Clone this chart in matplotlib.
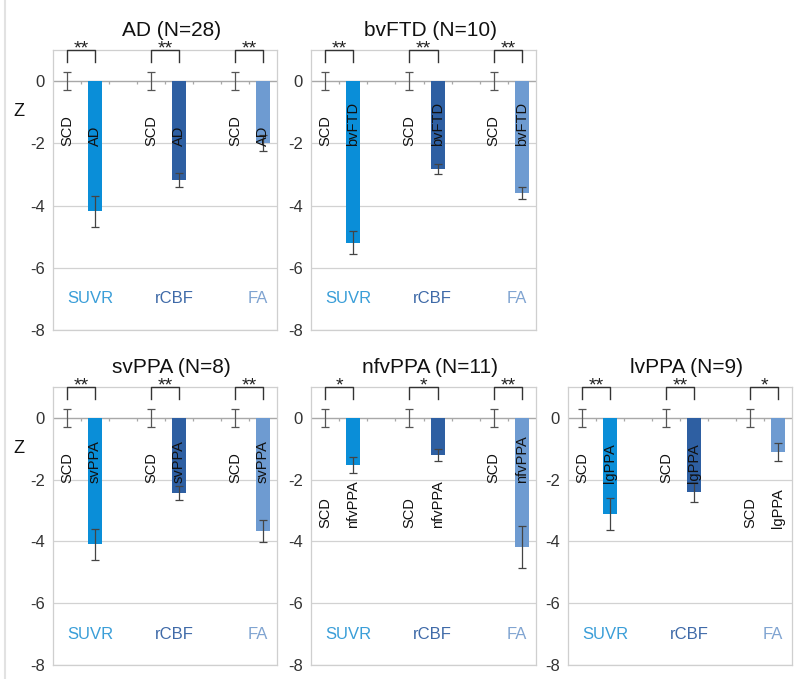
import matplotlib
matplotlib.use("Agg")
import matplotlib.pyplot as plt
from matplotlib.lines import Line2D
import numpy as np

plt.rcParams['font.family'] = ['Liberation Sans', 'DejaVu Sans']

# ---- data ----
panels = ["AD (N=28)", "bvFTD (N=10)", "svPPA (N=8)", "nfvPPA (N=11)", "lvPPA (N=9)"]
disease_labels = ["AD", "bvFTD", "svPPA", "nfvPPA", "lgPPA"]
measures = ["SUVR", "rCBF", "FA"]

scd_mean = [0.0, 0.0, 0.0]
scd_err = [0.3, 0.3, 0.3]

dis_mean = {
    "AD (N=28)":     [-4.19, -3.18, -1.99],
    "bvFTD (N=10)":  [-5.19, -2.83, -3.59],
    "svPPA (N=8)":   [-4.09, -2.43, -3.66],
    "nfvPPA (N=11)": [-1.53, -1.20, -4.17],
    "lvPPA (N=9)":   [-3.12, -2.41, -1.11],
}
dis_err = {
    "AD (N=28)":     [0.51, 0.23, 0.27],
    "bvFTD (N=10)":  [0.38, 0.15, 0.19],
    "svPPA (N=8)":   [0.50, 0.23, 0.37],
    "nfvPPA (N=11)": [0.25, 0.18, 0.68],
    "lvPPA (N=9)":   [0.52, 0.30, 0.30],
}
stars = {
    "AD (N=28)":     ["**", "**", "**"],
    "bvFTD (N=10)":  ["**", "**", "**"],
    "svPPA (N=8)":   ["**", "**", "**"],
    "nfvPPA (N=11)": ["*", "*", "**"],
    "lvPPA (N=9)":   ["**", "**", "*"],
}

bar_colors = ["#0a8ed8", "#2e5fa2", "#6e9bd1"]
label_colors = ["#3a9ed8", "#3f6aa8", "#80a4d1"]
yticks = [0, -2, -4, -6, -8]

# ---- layout ----
W, H = 796, 679
fig = plt.figure(figsize=(W / 100, H / 100), dpi=100)
fig.patch.set_facecolor("white")

cols_px = [(53, 277), (311, 536), (568, 792)]
rows_px = [(50, 330), (387, 665)]
slots = [(0, 0), (0, 1), (1, 0), (1, 1), (1, 2)]

fig.add_artist(Line2D([5 / W, 5 / W], [0, 1], color="#e2e2e2", lw=1.5))

for name, dlab, (r, c) in zip(panels, disease_labels, slots):
    x0, x1 = cols_px[c]
    t, b = rows_px[r]
    ax = fig.add_axes([x0 / W, 1 - b / H, (x1 - x0) / W, (b - t) / H])
    ax.set_xlim(-0.5, 7.5)
    ax.set_ylim(-8, 1)
    for s in ax.spines.values():
        s.set_color("#cfcfcf")
        s.set_linewidth(0.9)
    ax.set_yticks(yticks)
    ax.set_yticklabels([str(v) for v in yticks], fontsize=12, color="#333333")
    ax.tick_params(axis="y", length=0, pad=6)
    ax.set_xticks([])
    for v in yticks[1:]:
        ax.axhline(v, color="#d2d2d2", lw=0.9, zorder=0)
    ax.axhline(0, color="#a8a8a8", lw=1.0, zorder=1)
    bounds = np.arange(0.5, 7.0, 1.0)
    ax.vlines(bounds, -0.1, 0, color="#a8a8a8", lw=0.9, zorder=1)

    means = dis_mean[name]
    errs = dis_err[name]
    for i, m in enumerate(measures):
        xs = 3 * i
        xd = 3 * i + 1
        ax.bar(xd, means[i], width=0.5, color=bar_colors[i], zorder=2)
        ax.errorbar([xs], [scd_mean[i]], yerr=[scd_err[i]], fmt="none",
                    ecolor="#555555", elinewidth=0.9, capsize=2.8, capthick=0.9, zorder=3)
        ax.errorbar([xd], [means[i]], yerr=[errs[i]], fmt="none",
                    ecolor="#444444", elinewidth=0.9, capsize=2.8, capthick=0.9, zorder=3)
        base = -2.1 if means[i] < -1.8 else -3.55
        ax.text(xs, base, "SCD", rotation=90, ha="center", va="bottom",
                fontsize=10.5, color="#111111", zorder=4)
        ax.text(xd, base, dlab, rotation=90, ha="center", va="bottom",
                fontsize=10.5, color="#111111", zorder=4)
        # significance bracket
        ax.plot([xs, xs, xd, xd], [0.62, 1.0, 1.0, 0.62], color="#333333",
                lw=1.0, clip_on=False, zorder=5)
        ax.text((xs + xd) / 2, 0.89, stars[name][i], ha="center", va="baseline",
                fontsize=14, color="#222222", clip_on=False, zorder=6)
        ax.text(xd - 0.17, -7.0, m, ha="center", va="center", fontsize=12,
                color=label_colors[i])
    ax.set_title(name, fontsize=15, color="#111111", pad=10, x=0.53)
    if c == 0:
        ax.text(-0.15, 0.78, "Z", transform=ax.transAxes, fontsize=13,
                ha="center", va="center", color="#111111")

fig.savefig("out.png", dpi=100, facecolor="white")
